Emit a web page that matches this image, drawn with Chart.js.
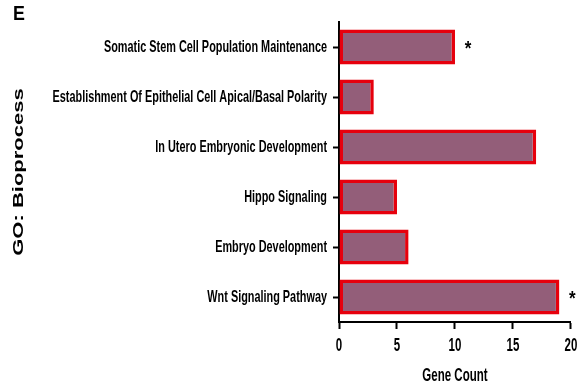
<!DOCTYPE html>
<html>
<head>
<meta charset="utf-8">
<script src="https://cdn.jsdelivr.net/npm/chart.js@4/dist/chart.umd.min.js"></script>
<style>
  html, body { margin: 0; padding: 0; background: #fff; }
  #wrap { width: 587px; height: 390px; position: relative; }
</style>
</head>
<body>
<div id="wrap"><canvas id="chart" width="587" height="390"></canvas></div>
<script>
// GO biological processes, listed top to bottom
const categories = [
  'Somatic Stem Cell Population Maintenance',
  'Establishment Of Epithelial Cell Apical/Basal Polarity',
  'In Utero Embryonic Development',
  'Hippo Signaling',
  'Embryo Development',
  'Wnt Signaling Pathway'
];
// number of genes annotated to each process
const geneCounts = [10, 3, 17, 5, 6, 19];
// processes flagged as significant (asterisk after the bar)
const significant = [true, false, false, false, false, true];
// x-axis tick values
const xTicks = [0, 5, 10, 15, 20];

const family = "'Liberation Sans', Arial, sans-serif";
// horizontal squeeze applied to axis text, giving a narrow typeface look
const condense = 0.64;

// Draws axis text horizontally condensed about its anchor point
const condensedText = {
  id: 'condensedText',
  beforeDraw(chart) {
    const ctx = chart.ctx;
    const plain = CanvasRenderingContext2D.prototype.fillText;
    ctx.fillText = function (text, x, y, maxWidth) {
      this.save();
      this.translate(x, y);
      this.scale(condense, 1);
      if (maxWidth !== undefined) plain.call(this, text, 0, 0, maxWidth / condense);
      else plain.call(this, text, 0, 0);
      this.restore();
    };
  },
  afterDatasetsDraw(chart) {
    delete chart.ctx.fillText;
  }
};

// Panel letter, rotated axis title and significance asterisks
const annotations = {
  id: 'annotations',
  afterDraw(chart) {
    const ctx = chart.ctx;
    const area = chart.chartArea;

    ctx.save();
    ctx.fillStyle = '#000';
    ctx.font = 'bold 21px ' + family;
    ctx.textAlign = 'left';
    ctx.textBaseline = 'alphabetic';
    ctx.translate(13, 20);
    ctx.scale(0.85, 1);
    ctx.fillText('E', 0, 0);
    ctx.restore();

    ctx.save();
    ctx.fillStyle = '#000';
    ctx.translate(18, (area.top + area.bottom) / 2);
    ctx.rotate(-Math.PI / 2);
    ctx.scale(1, 0.68);
    ctx.font = 'bold 22px ' + family;
    ctx.textAlign = 'center';
    ctx.textBaseline = 'middle';
    ctx.fillText('GO: Bioprocess', 0, 1);
    ctx.restore();

    const meta = chart.getDatasetMeta(0);
    meta.data.forEach((bar, i) => {
      if (!significant[i]) return;
      ctx.save();
      ctx.fillStyle = '#000';
      ctx.font = 'bold 20px ' + family;
      ctx.textAlign = 'center';
      ctx.textBaseline = 'alphabetic';
      ctx.translate(bar.x + 13, bar.y - 4 + 11.5);
      ctx.scale(0.85, 1);
      ctx.fillText('*', 0, 0);
      ctx.restore();
    });
  }
};

new Chart(document.getElementById('chart'), {
  type: 'bar',
  data: {
    labels: categories,
    datasets: [{
      data: geneCounts,
      backgroundColor: '#935E79',
      borderColor: '#E6000D',
      borderWidth: 3.5,
      borderSkipped: false,
      barPercentage: 0.7,
      categoryPercentage: 1.0
    }]
  },
  options: {
    indexAxis: 'y',
    responsive: false,
    animation: false,
    layout: { padding: { top: 22, right: 13, bottom: 0, left: 0 } },
    plugins: { legend: { display: false }, tooltip: { enabled: false } },
    scales: {
      x: {
        min: 0,
        max: 20,
        afterBuildTicks(scale) { scale.ticks = xTicks.map(v => ({ value: v })); },
        afterFit(scale) { scale.height = 68; },
        ticks: { color: '#000', font: { family: family, size: 18, weight: 'bold' }, padding: 6, maxRotation: 0 },
        grid: { display: true, drawOnChartArea: false, drawTicks: true, tickLength: 7, tickColor: '#000', tickWidth: 2 },
        border: { display: true, color: '#000', width: 2 },
        title: { display: true, text: 'Gene Count', color: '#000', font: { family: family, size: 18, weight: 'bold' }, padding: { top: 0, bottom: 3 } }
      },
      y: {
        afterFit(scale) { scale.width = 339; },
        ticks: { color: '#000', font: { family: family, size: 17, weight: 'bold' }, padding: 6, autoSkip: false },
        grid: { display: true, offset: false, drawOnChartArea: false, drawTicks: true, tickLength: 6, tickColor: '#000', tickWidth: 2 },
        border: { display: true, color: '#000', width: 2 }
      }
    }
  },
  plugins: [condensedText, annotations]
});
</script>
</body>
</html>
